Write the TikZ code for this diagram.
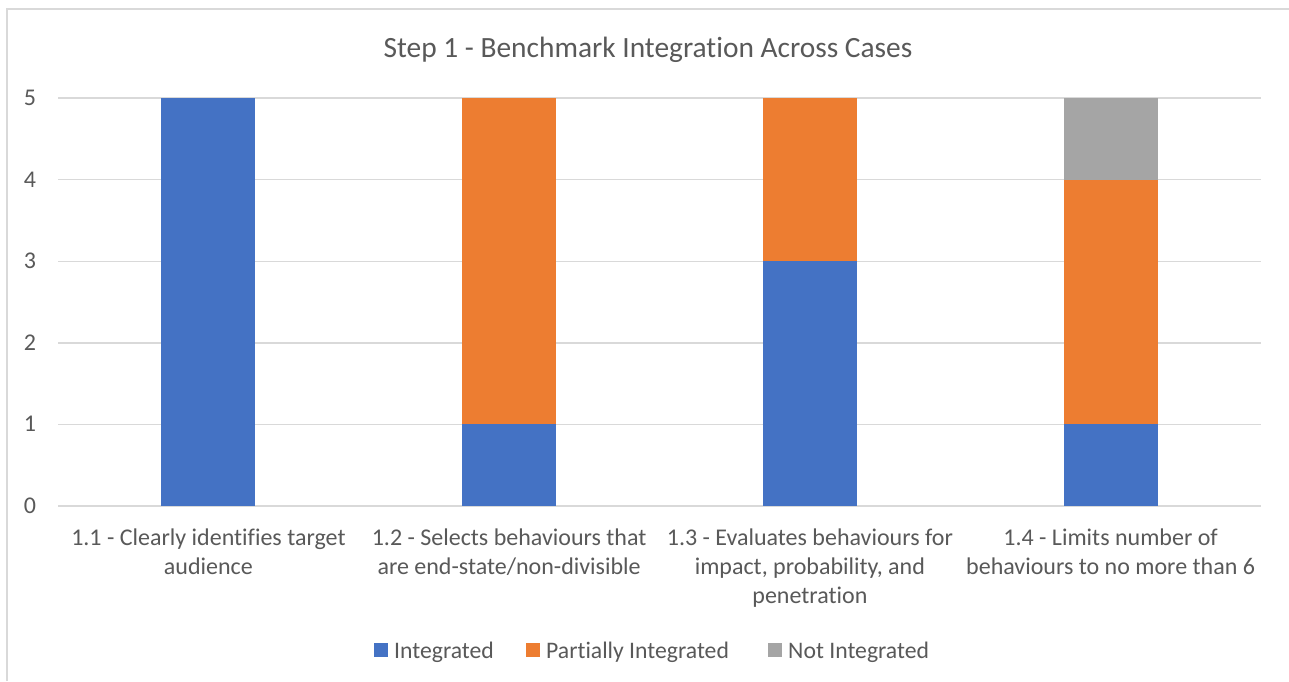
\documentclass[tikz,border=0pt]{standalone}
\usepackage{fontspec}
\setmainfont{Carlito}[Ligatures=NoCommon]
\definecolor{cInt}{HTML}{4472C4}
\definecolor{cPart}{HTML}{ED7D31}
\definecolor{cNot}{HTML}{A5A5A5}
\definecolor{cGrid}{HTML}{D9D9D9}
\definecolor{cText}{HTML}{595959}
\tikzset{
  gridline/.style={draw=cGrid, line width=1.4pt},
  frame/.style={draw=cGrid, line width=1.4pt},
  ticklabel/.style={text=cText, font=\fontsize{24}{29.3}\selectfont, anchor=base, inner sep=0pt},
  catlabel/.style={text=cText, font=\fontsize{24}{29.3}\selectfont, align=center, anchor=north, inner sep=0pt},
  titlelabel/.style={text=cText, font=\fontsize{29.4}{35}\selectfont, anchor=base, inner sep=0pt},
  legtext/.style={text=cText, font=\fontsize{23.7}{29}\selectfont, anchor=base west, inner sep=0pt},
  legkey/.style={minimum width=14pt, minimum height=14pt, inner sep=0pt, draw=none},
}
\begin{document}
\begin{tikzpicture}[x=1pt, y=-1pt]
\useasboundingbox (0,0) rectangle (1289,681);
\fill[white] (0,0) rectangle (1289,681);
% chart frame (left and top edges visible)
\draw[frame] (7,681) -- (7,9) -- (1289,9);

% title
\node[titlelabel] (title) at (648,57) {Step 1 - Benchmark Integration Across Cases};

% plot area: origin at value 0, one unit per value step
\begin{scope}[shift={(58,506)}, x=1pt, y=81.6pt]
  \foreach \v in {0,...,5} {
    \draw[gridline] (0,\v) -- (1203,\v);
    \node[ticklabel, yshift=-7.5pt] (tick\v) at (-28,\v) {\v};
  }
  % stacked bars: Integrated / Partially Integrated / Not Integrated
  \def\hw{47}
  % 1.1
  \fill[cInt]  (150.4-\hw,0) rectangle (150.4+\hw,5);
  % 1.2
  \fill[cInt]  (451.1-\hw,0) rectangle (451.1+\hw,1);
  \fill[cPart] (451.1-\hw,1) rectangle (451.1+\hw,5);
  % 1.3
  \fill[cInt]  (751.9-\hw,0) rectangle (751.9+\hw,3);
  \fill[cPart] (751.9-\hw,3) rectangle (751.9+\hw,5);
  % 1.4
  \fill[cInt]  (1052.6-\hw,0) rectangle (1052.6+\hw,1);
  \fill[cPart] (1052.6-\hw,1) rectangle (1052.6+\hw,4);
  \fill[cNot]  (1052.6-\hw,4) rectangle (1052.6+\hw,5);
\end{scope}

% category labels
\node[catlabel] (cat1) at (208.4,528.5) {1.1 - Clearly identifies target\\audience};
\node[catlabel] (cat2) at (509.1,528.5) {1.2 - Selects behaviours that\\are end-state/non-divisible};
\node[catlabel] (cat3) at (809.9,528.5) {1.3 - Evaluates behaviours for\\impact, probability, and\\penetration};
\node[catlabel] (cat4) at (1110.6,528.5) {1.4 - Limits number of\\behaviours to no more than 6};

% legend
\node[legkey, fill=cInt]  (k1) at (381,650) {};
\node[legtext] (l1) at (394,658) {Integrated};
\node[legkey, fill=cPart] (k2) at (533,650) {};
\node[legtext] (l2) at (546,658) {Partially Integrated};
\node[legkey, fill=cNot]  (k3) at (775,650) {};
\node[legtext] (l3) at (788,658) {Not Integrated};
\end{tikzpicture}
\end{document}
